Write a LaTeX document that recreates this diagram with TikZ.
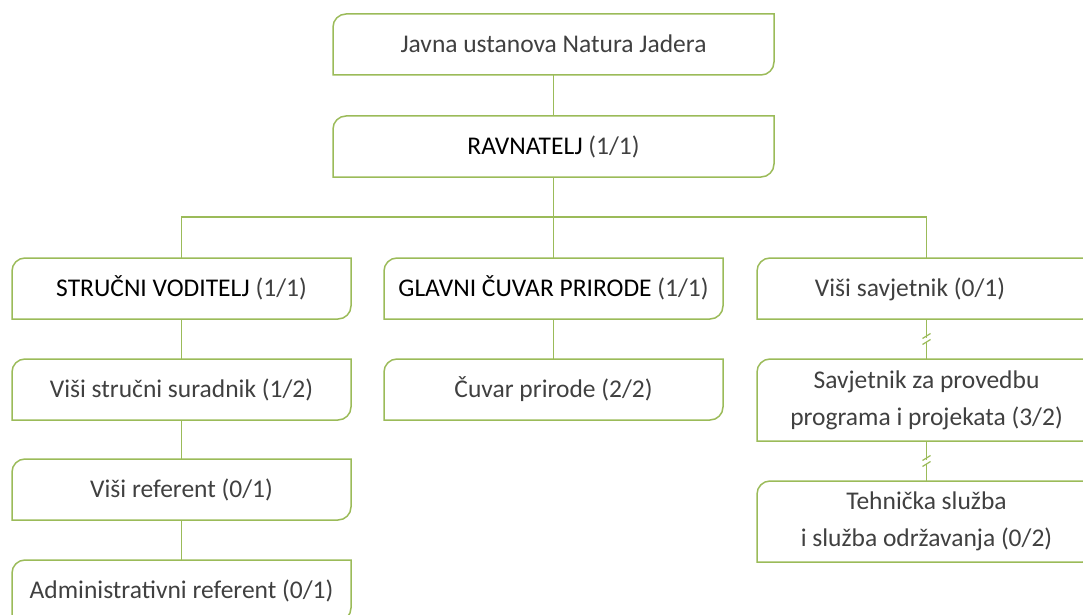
\documentclass[tikz,border=0pt]{standalone}
\usepackage{fontspec}
\setmainfont{Carlito}
\usepackage{tikz}
\usetikzlibrary{positioning}
\definecolor{lineGreen}{RGB}{155,187,89}
\definecolor{textGray}{RGB}{64,64,64}
\def\boxW{339pt}
\def\boxH{61pt}
\def\cornerR{13pt}
\newcommand{\okvir}[1]{%
% #1 = node, rounded top left and bottom right corners
\draw[link]
([yshift=-\cornerR]#1.north west)
arc[start angle=180,end angle=90,radius=\cornerR]
-- (#1.north east)
-- ([yshift=\cornerR]#1.south east)
arc[start angle=0,end angle=-90,radius=\cornerR]
-- (#1.south west) -- cycle;
}
\newcommand{\prekid}[1]{%
% #1 = coordinate on a vertical line
\begin{scope}[shift={(#1)}]
\fill[white] (-4,1.5) -- (4,-3.5) -- (4,0.5) -- (-4,5.5) -- cycle;
\draw[link, line width=1.2pt] (-4,-0.5) -- (4,-5.5);
\draw[link, line width=1.2pt] (-4,5.5) -- (4,0.5);
\end{scope}
}

\begin{document}
\begin{tikzpicture}[
    x=1pt, y=-1pt,
    link/.style={draw=lineGreen, line width=1.5pt},
    office/.style={minimum width=\boxW, minimum height=\boxH, inner sep=0pt,
        outer sep=0pt, text=textGray, font=\fontsize{25.5}{36.7}\selectfont,
        text height=16.7pt, text depth=0pt},
    office2/.style={minimum width=\boxW, minimum height=82pt, inner sep=0pt,
        outer sep=0pt, text=textGray, font=\fontsize{25.5}{36.7}\selectfont,
        align=center}
]
\useasboundingbox (0,0) rectangle (1083,615);
\clip (0,0) rectangle (1083,615);

\node[office, minimum width=441pt] (top) at (553.5,44.5) {Javna ustanova Natura Jadera};
\node[office, minimum width=441pt, below=41pt of top] (rav) {\textcolor{black}{RAVNATELJ} (1/1)};

\node[office] (sv) at (181.5,288.5) {\textcolor{black}{STRUČNI VODITELJ} (1/1)};
\node[office, below=81pt of rav] (gcp) {\textcolor{black}{GLAVNI ČUVAR PRIRODE} (1/1)};
\node[office] (vs) at (926.5,288.5) {Viši savjetnik (0/1)\hspace*{33pt}};

\node[office, below=40pt of sv] (vss) {Viši stručni suradnik (1/2)};
\node[office, below=39pt of vss] (vr) {Viši referent (0/1)};
\node[office, below=40pt of vr] (ar) {Administrativni referent (0/1)};

\node[office, below=40pt of gcp] (cp) {Čuvar prirode (2/2)};

\node[office2, below=40pt of vs] (sppp) {Savjetnik za provedbu\\programa i projekata (3/2)};
\node[office2, minimum height=81pt, below=40pt of sppp] (tso) {Tehnička služba\\i služba održavanja (0/2)};

\coordinate (bus) at (553.5,217);

\draw[link] (top) -- (rav);
\draw[link] (rav) -- (gcp);
\draw[link] (sv.north) |- (bus) -| (vs.north);
\draw[link] (sv) -- (vss);
\draw[link] (vss) -- (vr);
\draw[link] (vr) -- (ar);
\draw[link] (gcp) -- (cp);
\draw[link] (vs) -- coordinate (b1) (sppp);
\draw[link] (sppp) -- coordinate (b2) (tso);
\prekid{b1}
\prekid{b2}

\foreach \n in {top,rav,sv,gcp,vs,vss,vr,ar,cp,sppp,tso}
  {\okvir{\n}}
\end{tikzpicture}
\end{document}
